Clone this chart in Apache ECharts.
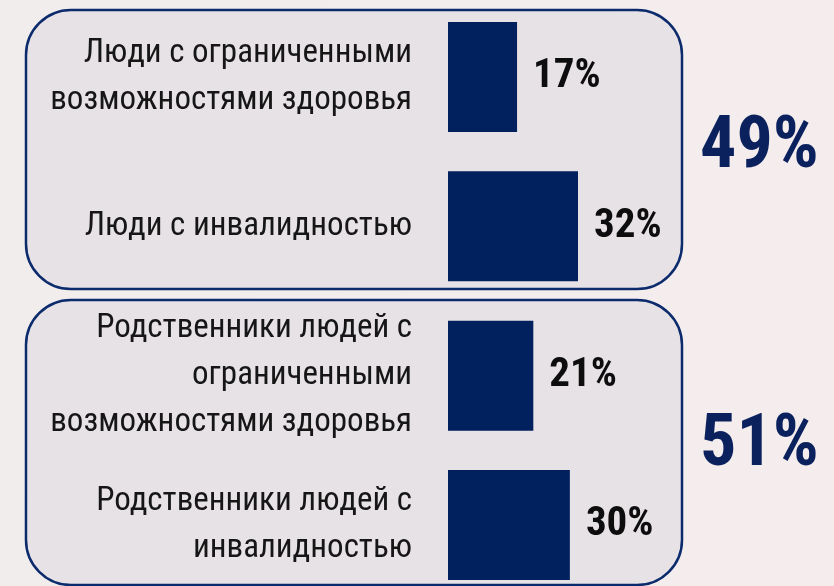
<!DOCTYPE html>
<html>
<head>
<meta charset="utf-8">
<script src="https://cdn.jsdelivr.net/npm/echarts@6/dist/echarts.min.js"></script>
<style>
html,body{margin:0;padding:0;background:#f3eded;}
#c{width:834px;height:586px;}
</style>
</head>
<body>
<div id="c"></div>
<script>
// ---- data ----
const categories = [
  "Люди с ограниченными\nвозможностями здоровья",
  "Люди с инвалидностью",
  "Родственники людей с\nограниченными\nвозможностями здоровья",
  "Родственники людей с\nинвалидностью"
];
const values = [17, 32, 21, 30];
const groups = [[0, 1], [2, 3]]; // category indices per box
const totalLabels = ["49%", "51%"];

const NAVY = '#01205e';
const LABEL_FONT = '"Liberation Sans Narrow", "Roboto Condensed", "DejaVu Sans Condensed", "Roboto", sans-serif';

const chart = echarts.init(document.getElementById('c'), null, {renderer: 'canvas'});

const option = {
  animation: false,
  backgroundColor: {
    type: 'linear', x: 0, y: 0, x2: 1, y2: 0,
    colorStops: [{offset: 0, color: '#f1eded'}, {offset: 1, color: '#f5eded'}]
  },
  grid: {left: 448, right: 61, top: 77, bottom: 61, containLabel: false},
  xAxis: {
    type: 'value', min: 0, max: 80,
    axisLine: {show: false}, axisTick: {show: false},
    axisLabel: {show: false}, splitLine: {show: false}
  },
  yAxis: {
    type: 'category', data: categories, inverse: true, boundaryGap: false,
    axisLine: {show: false}, axisTick: {show: false}, splitLine: {show: false},
    axisLabel: {
      interval: 0, margin: 36, align: 'right',
      fontFamily: LABEL_FONT, fontSize: 33, lineHeight: 47,
      color: '#161616'
    }
  },
  graphic: [
    {type: 'rect', z: 0, shape: {x: 26, y: 10, width: 656, height: 279, r: 45},
     style: {fill: '#e7e2e6', stroke: '#0c2b6c', lineWidth: 2.5}},
    {type: 'rect', z: 0, shape: {x: 26, y: 300, width: 656, height: 285, r: 45},
     style: {fill: '#e7e2e6', stroke: '#0c2b6c', lineWidth: 2.5}}
  ],
  series: [{
    type: 'bar', data: values, barWidth: 110, clip: false,
    itemStyle: {color: NAVY},
    label: {
      show: true, position: 'right', distance: 16,
      formatter: p => p.value + '%',
      fontFamily: LABEL_FONT, fontWeight: 'bold', fontSize: 41, color: '#0d0d0d'
    }
  }]
};
chart.setOption(option);

// totals placed at the vertical middle of each group
const extra = groups.map((g, i) => {
  const y0 = chart.convertToPixel({yAxisIndex: 0}, g[0]);
  const y1 = chart.convertToPixel({yAxisIndex: 0}, g[g.length - 1]);
  return {
    type: 'text', z: 5, x: 700, y: (y0 + y1) / 2 - 3,
    style: {
      text: totalLabels[i], fill: '#0b215e', fontFamily: LABEL_FONT,
      fontWeight: 'bold', fontSize: 72, textAlign: 'left', textVerticalAlign: 'middle'
    }
  };
});
chart.setOption({graphic: option.graphic.concat(extra)});
</script>
</body>
</html>
